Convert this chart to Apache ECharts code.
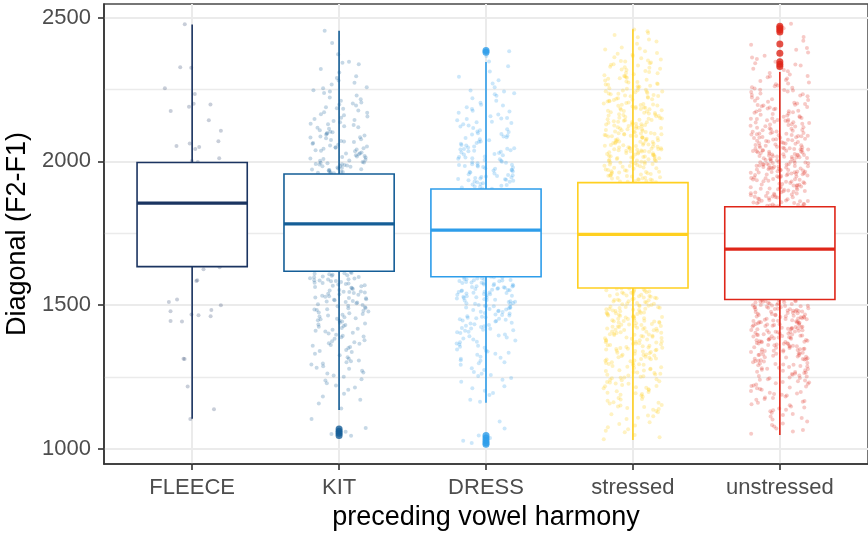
<!DOCTYPE html>
<html>
<head>
<meta charset="utf-8">
<script src="https://cdn.jsdelivr.net/npm/echarts@6/dist/echarts.min.js"></script>
<style>
  html, body { margin: 0; padding: 0; background: #ffffff; }
  #chart { width: 868px; height: 534px; }
</style>
</head>
<body>
<div id="chart"></div>
<script>
// Vowel groups on the x axis
const categories = ['FLEECE', 'KIT', 'DRESS', 'stressed', 'unstressed'];
const groupColors = ['#1B3461', '#155E97', '#2E9DEA', '#FFD020', '#DF2619'];

// Axis ticks
const yTicks = [1000, 1500, 2000, 2500];
const yMinorTicks = [1250, 1750, 2250];

// Box statistics per group (whisker ends, quartiles, median)
const boxLow    = [1105, 1136, 1161, 1031, 1049];
const boxQ1     = [1634, 1618, 1599, 1560, 1520];
const boxMedian = [1855, 1783, 1761, 1746, 1695];
const boxQ3     = [1996, 1956, 1904, 1926, 1842];
const boxHigh   = [2476, 2454, 2345, 2459, 2311];

// Outlying tokens beyond the whiskers
const kitOutliers = [1070, 1062, 1055, 1047];
const dressOutliers = [2385, 2379, 1047, 1038, 1030, 1022, 1017];
const unstressedOutliers = [2470, 2464, 2457, 2450, 2408, 2376, 2346, 2338, 2330];

// Individual tokens (Diagonal, F2-F1) lying outside the interquartile boxes
const fleeceTokens = [2477, 2327, 2325, 2254, 2234, 2200, 2198, 2190, 2175, 2143, 2106, 2070, 2062, 2053, 2050, 2043, 2011, 2001, 1998,
  1632, 1625, 1587, 1584, 1520, 1511, 1500, 1483, 1479, 1468, 1465, 1462, 1445, 1443, 1314, 1313, 1217, 1138, 1104];

const kitTokens = [2454, 2411, 2372, 2346, 2338, 2321, 2309, 2343, 2296, 2281, 2267, 2290, 2258, 2273, 2254, 2247, 2238, 2216, 2229, 2205,
  2243, 2211, 2222, 2201, 2194, 2183, 2171, 2188, 2160, 2177, 2152, 2164, 2198, 2169, 2156, 2185, 2147, 2131, 2119, 2140, 2108, 2126, 2113,
  2103, 2136, 2122, 2144, 2101, 2117, 2129, 2096, 2083, 2071, 2090, 2064, 2058, 2077, 2086, 2052, 2067, 2093, 2074, 2061, 2055, 2080, 2099,
  2069, 2084, 2047, 2039, 2028, 2013, 2044, 2006, 2021, 2035, 2017, 2002, 2049, 2031, 2010, 2025, 2041, 2008, 2019, 2037, 2003, 2046, 2015,
  2027, 1998, 1987, 1972, 1963, 1991, 1979, 1958, 1984, 1969, 1995, 1975, 1961, 1989, 1966, 1981, 1993, 1970, 1960, 1977, 1986, 1964, 1996,
  1973, 1983, 1959, 1990,
  1612, 1604, 1597, 1589, 1608, 1583, 1575, 1615, 1569, 1593, 1561, 1600, 1578, 1556, 1586, 1609, 1572, 1594, 1553, 1581, 1566, 1602, 1590,
  1559, 1574, 1611, 1584, 1563, 1598, 1551, 1577, 1606, 1568, 1587, 1546, 1538, 1527, 1519, 1542, 1511, 1533, 1503, 1524, 1548, 1515, 1536,
  1507, 1529, 1544, 1521, 1501, 1540, 1513, 1531, 1509, 1525, 1547, 1517, 1496, 1483, 1472, 1464, 1489, 1455, 1478, 1493, 1461, 1486, 1469,
  1451, 1481, 1498, 1458, 1475, 1490, 1467, 1453, 1485, 1446, 1431, 1418, 1404, 1439, 1425, 1411, 1443, 1428, 1415, 1436, 1402, 1421, 1448,
  1409, 1433, 1394, 1378, 1362, 1389, 1355, 1371, 1397, 1366, 1383, 1351, 1375, 1391, 1359, 1368, 1344, 1326, 1308, 1337, 1319, 1302, 1341,
  1314, 1331, 1305, 1294, 1279, 1263, 1288, 1256, 1272, 1297, 1266, 1283, 1251, 1243, 1221, 1206, 1238, 1214, 1229, 1192, 1171, 1158, 1183,
  1141, 1104, 1073, 1060, 1052, 1046];

const dressTokens = [2383, 2366, 2347, 2331, 2312, 2294, 2271, 2282, 2258, 2246, 2219, 2237, 2204, 2228, 2243, 2211, 2233, 2197, 2176, 2163,
  2188, 2151, 2182, 2169, 2194, 2157, 2173, 2147, 2129, 2112, 2138, 2104, 2143, 2121, 2133, 2108, 2116, 2149, 2125, 2136, 2102, 2093, 2077,
  2061, 2086, 2052, 2098, 2069, 2081, 2057, 2090, 2073, 2064, 2095, 2055, 2084, 2068, 2044, 2029, 2013, 2037, 2005, 2048, 2021, 2033, 2009,
  2041, 2017, 2026, 2002, 2046, 2035, 2011, 2024, 2039, 2015, 2031, 2007, 2043, 1997, 1982, 1969, 1988, 1955, 1993, 1974, 1961, 1986, 1952,
  1979, 1999, 1966, 1990, 1958, 1976, 1984, 1963, 1995, 1971, 1953, 1987, 1968, 1980, 1947, 1934, 1921, 1940, 1909, 1944, 1927, 1915, 1938,
  1906, 1949, 1930, 1918, 1942, 1924, 1911, 1936, 1946, 1913, 1929, 1939, 1920, 1905, 1933,
  1596, 1583, 1571, 1589, 1557, 1593, 1576, 1562, 1586, 1551, 1598, 1579, 1566, 1591, 1554, 1581, 1569, 1594, 1559, 1574, 1587, 1563, 1552,
  1597, 1578, 1565, 1590, 1556, 1584, 1572, 1599, 1561, 1577, 1588, 1553, 1568, 1544, 1527, 1512, 1538, 1503, 1547, 1521, 1533, 1508, 1541,
  1516, 1529, 1549, 1505, 1536, 1519, 1543, 1511, 1525, 1539, 1501, 1531, 1546, 1514, 1523, 1535, 1507, 1542, 1518, 1528, 1494, 1476, 1458,
  1487, 1462, 1498, 1471, 1453, 1483, 1466, 1491, 1455, 1479, 1497, 1464, 1485, 1451, 1473, 1489, 1460, 1481, 1496, 1468, 1456, 1477, 1492,
  1443, 1421, 1408, 1436, 1415, 1447, 1427, 1403, 1439, 1418, 1431, 1411, 1445, 1424, 1406, 1434, 1419, 1449, 1413, 1429, 1392, 1371, 1356,
  1384, 1363, 1398, 1377, 1352, 1388, 1367, 1395, 1359, 1381, 1373, 1342, 1321, 1307, 1335, 1314, 1346, 1328, 1302, 1339, 1317, 1331, 1309,
  1293, 1268, 1254, 1281, 1262, 1298, 1275, 1257, 1241, 1218, 1203, 1234, 1211, 1247, 1188, 1164, 1195, 1171, 1096, 1071, 1047, 1038, 1029,
  1021];

const stressedTokens = [2458, 2446, 2431, 2417, 2409, 2439, 2424, 2452, 2396, 2383, 2371, 2362, 2354, 2389, 2377, 2366, 2358, 2392, 2374,
  2351, 2347, 2336, 2322, 2314, 2303, 2341, 2329, 2318, 2307, 2344, 2333, 2325, 2311, 2338, 2319, 2349, 2306, 2327, 2296, 2284, 2271, 2263,
  2252, 2291, 2278, 2267, 2256, 2299, 2287, 2274, 2259, 2293, 2281, 2269, 2254, 2297, 2276, 2261, 2289, 2266, 2247, 2236, 2224, 2213, 2203,
  2242, 2231, 2219, 2208, 2249, 2238, 2227, 2216, 2205, 2244, 2233, 2221, 2211, 2246, 2229, 2214, 2201, 2240, 2226, 2218, 2235, 2209, 2243,
  2198, 2187, 2173, 2164, 2152, 2193, 2181, 2169, 2158, 2196, 2184, 2176, 2161, 2154, 2191, 2179, 2166, 2199, 2186, 2171, 2157, 2194, 2182,
  2163, 2151, 2189, 2175, 2168, 2197, 2159, 2178, 2185, 2146, 2134, 2123, 2111, 2102, 2141, 2129, 2117, 2106, 2148, 2137, 2126, 2114, 2103,
  2143, 2131, 2119, 2108, 2145, 2136, 2122, 2112, 2149, 2127, 2115, 2139, 2104, 2132, 2121, 2144, 2109, 2125, 2138, 2116, 2101, 2128, 2097,
  2086, 2073, 2064, 2052, 2093, 2081, 2069, 2057, 2099, 2088, 2076, 2062, 2054, 2095, 2083, 2071, 2059, 2091, 2079, 2066, 2051, 2098, 2084,
  2072, 2061, 2094, 2077, 2056, 2089, 2068, 2082, 2096, 2063, 2074, 2058, 2087, 2092, 2067, 2053, 2048, 2037, 2024, 2013, 2004, 2044, 2032,
  2019, 2008, 2046, 2035, 2027, 2016, 2002, 2041, 2029, 2018, 2006, 2049, 2038, 2022, 2011, 2043, 2031, 2014, 2001, 2047, 2026, 2009, 2039,
  2021, 2034, 2045, 2012, 2028, 2007, 2042, 2017, 2033, 2003, 2036, 2023, 2040, 2015, 1997, 1984, 1972, 1961, 1949, 1938, 1929, 1993, 1981,
  1967, 1954, 1943, 1932, 1999, 1987, 1976, 1963, 1951, 1940, 1927, 1995, 1979, 1966, 1957, 1945, 1934, 1991, 1983, 1970, 1959, 1947, 1936,
  1998, 1974, 1952, 1931, 1989, 1964, 1942, 1985, 1956, 1930, 1992, 1969, 1941, 1978, 1950, 1996, 1961, 1937,
  1557, 1543, 1529, 1516, 1503, 1552, 1538, 1524, 1511, 1548, 1534, 1519, 1506, 1559, 1545, 1531, 1514, 1501, 1554, 1539, 1526, 1509, 1546,
  1533, 1517, 1558, 1541, 1522, 1505, 1550, 1536, 1513, 1544, 1527, 1508, 1555, 1532, 1518, 1549, 1521, 1497, 1484, 1472, 1459, 1453, 1493,
  1479, 1466, 1455, 1499, 1487, 1474, 1461, 1490, 1477, 1463, 1452, 1495, 1482, 1469, 1457, 1491, 1475, 1464, 1498, 1483, 1468, 1454, 1486,
  1471, 1458, 1494, 1480, 1462, 1488, 1473, 1447, 1433, 1419, 1406, 1442, 1428, 1414, 1401, 1445, 1431, 1417, 1404, 1439, 1424, 1411, 1448,
  1435, 1421, 1408, 1443, 1426, 1413, 1437, 1422, 1403, 1446, 1429, 1415, 1440, 1418, 1432, 1409, 1444, 1425, 1396, 1381, 1367, 1353, 1391,
  1376, 1362, 1398, 1385, 1371, 1357, 1393, 1379, 1364, 1351, 1388, 1373, 1359, 1397, 1383, 1368, 1355, 1390, 1374, 1361, 1394, 1378, 1366,
  1386, 1352, 1370, 1399, 1346, 1329, 1313, 1341, 1325, 1308, 1348, 1333, 1317, 1302, 1343, 1327, 1311, 1337, 1321, 1305, 1345, 1331, 1315,
  1339, 1323, 1307, 1349, 1335, 1319, 1342, 1312, 1328, 1296, 1277, 1258, 1289, 1271, 1253, 1293, 1282, 1264, 1299, 1286, 1268, 1251, 1291,
  1274, 1256, 1297, 1279, 1262, 1284, 1266, 1295, 1259, 1273, 1246, 1227, 1208, 1239, 1218, 1201, 1243, 1231, 1213, 1248, 1223, 1205, 1236,
  1215, 1241, 1228, 1211, 1249, 1233, 1219, 1194, 1172, 1153, 1186, 1163, 1198, 1177, 1158, 1191, 1168, 1182, 1151, 1196, 1174, 1189, 1161,
  1143, 1121, 1104, 1137, 1114, 1148, 1128, 1109, 1139, 1117, 1132, 1146, 1093, 1076, 1058, 1041, 1087, 1064, 1049, 1082, 1069, 1034];

const unstressedTokens = [2478, 2463, 2449, 2432, 2419, 2405, 2394, 2378, 2367, 2356, 2388, 2361, 2346, 2333, 2318, 2307, 2341, 2326, 2313,
  2337, 2302, 2322, 2297, 2283, 2271, 2258, 2292, 2279, 2264, 2253, 2288, 2274, 2261, 2295, 2268, 2256, 2248, 2236, 2222, 2211, 2243, 2229,
  2216, 2204, 2246, 2233, 2219, 2207, 2241, 2226, 2213, 2249, 2231, 2201, 2196, 2184, 2173, 2162, 2151, 2192, 2181, 2169, 2157, 2199, 2187,
  2176, 2165, 2153, 2194, 2183, 2171, 2159, 2197, 2178, 2166, 2189, 2155, 2174, 2147, 2138, 2126, 2115, 2104, 2143, 2131, 2119, 2108, 2149,
  2136, 2124, 2112, 2101, 2145, 2133, 2121, 2109, 2141, 2128, 2117, 2106, 2148, 2135, 2122, 2113, 2144, 2129, 2103, 2139, 2098, 2087, 2076,
  2064, 2053, 2094, 2083, 2071, 2059, 2096, 2085, 2073, 2062, 2051, 2091, 2079, 2067, 2056, 2099, 2088, 2075, 2063, 2093, 2081, 2069, 2057,
  2097, 2084, 2072, 2061, 2089, 2077, 2054, 2092, 2066, 2082, 2048, 2039, 2027, 2016, 2005, 2044, 2033, 2021, 2011, 2046, 2035, 2024, 2013,
  2002, 2042, 2031, 2019, 2008, 2049, 2037, 2026, 2014, 2004, 2041, 2029, 2018, 2007, 2045, 2034, 2022, 2012, 2047, 2038, 2025, 2015, 2001,
  2043, 2032, 2020, 2009, 2036, 2023, 2040, 2017, 1998, 1988, 1977, 1966, 1955, 1994, 1983, 1972, 1961, 1951, 1996, 1985, 1974, 1963, 1953,
  1991, 1980, 1969, 1958, 1999, 1987, 1976, 1965, 1954, 1993, 1982, 1971, 1960, 1997, 1986, 1975, 1962, 1952, 1990, 1979, 1968, 1957, 1995,
  1984, 1973, 1959, 1992, 1978, 1964, 1989, 1970, 1956, 1981, 1948, 1936, 1921, 1907, 1893, 1878, 1864, 1851, 1944, 1931, 1917, 1902, 1889,
  1874, 1861, 1847, 1946, 1933, 1919, 1905, 1891, 1876, 1862, 1849, 1941, 1927, 1913, 1899, 1885, 1871, 1857, 1843, 1949, 1938, 1924, 1910,
  1896, 1882, 1868, 1854, 1942, 1929, 1915, 1901, 1887, 1872, 1858, 1845, 1947, 1934, 1920, 1906, 1892, 1877, 1863, 1850, 1939, 1925, 1911,
  1897, 1883, 1869, 1855, 1844, 1945, 1930, 1916, 1903, 1888, 1875, 1859, 1846, 1937, 1922, 1908, 1894, 1880, 1866, 1852,
  1517, 1504, 1491, 1478, 1463, 1452, 1513, 1499, 1486, 1472, 1459, 1510, 1495, 1482, 1469, 1455, 1519, 1506, 1493, 1480, 1466, 1451, 1515,
  1501, 1488, 1474, 1461, 1508, 1496, 1483, 1470, 1457, 1512, 1498, 1485, 1467, 1454, 1516, 1502, 1489, 1476, 1462, 1509, 1494, 1479, 1465,
  1453, 1514, 1500, 1487, 1473, 1458, 1507, 1492, 1477, 1460, 1518, 1497, 1481, 1468, 1448, 1437, 1424, 1412, 1401, 1444, 1431, 1419, 1407,
  1446, 1434, 1421, 1409, 1441, 1428, 1416, 1404, 1449, 1436, 1423, 1411, 1443, 1430, 1417, 1405, 1447, 1433, 1420, 1408, 1440, 1426, 1414,
  1402, 1445, 1432, 1418, 1439, 1425, 1406, 1442, 1429, 1413, 1435, 1422, 1397, 1384, 1372, 1359, 1393, 1380, 1367, 1354, 1399, 1387, 1374,
  1362, 1351, 1391, 1378, 1365, 1356, 1395, 1382, 1369, 1358, 1389, 1376, 1363, 1398, 1385, 1371, 1352, 1392, 1379, 1366, 1394, 1383, 1361,
  1388, 1373, 1357, 1396, 1375, 1368, 1346, 1331, 1316, 1302, 1342, 1327, 1312, 1348, 1335, 1321, 1306, 1344, 1329, 1314, 1339, 1324, 1309,
  1349, 1333, 1318, 1304, 1341, 1326, 1311, 1337, 1322, 1347, 1307, 1332, 1319, 1343, 1328, 1313, 1338, 1296, 1278, 1261, 1289, 1272, 1254,
  1293, 1283, 1266, 1299, 1281, 1264, 1252, 1291, 1274, 1258, 1297, 1285, 1269, 1287, 1256, 1276, 1294, 1263, 1279, 1268, 1246, 1227, 1209,
  1238, 1219, 1202, 1243, 1231, 1214, 1249, 1224, 1206, 1236, 1217, 1241, 1229, 1211, 1247, 1233, 1221, 1193, 1174, 1156, 1186, 1167, 1198,
  1179, 1161, 1189, 1171, 1152, 1196, 1183, 1164, 1191, 1177, 1144, 1126, 1108, 1137, 1118, 1148, 1131, 1113, 1141, 1122, 1103, 1135, 1096,
  1078, 1061, 1089, 1071, 1053, 1084, 1066];

const groupTokens = [fleeceTokens, kitTokens, dressTokens, stressedTokens, unstressedTokens];
const groupOutliers = [[], kitOutliers, dressOutliers, [], unstressedOutliers];

const FONT = '"Liberation Sans", Arial, Helvetica, sans-serif';

// Deterministic horizontal jitter (half-width 0.2 of a category step)
function jitter(i, v) {
  const h = Math.sin(i * 12.9898 + v * 78.233) * 43758.5453;
  return (h - Math.floor(h) - 0.5) * 0.4;
}

function hexToRgba(hex, a) {
  const n = parseInt(hex.slice(1), 16);
  return 'rgba(' + ((n >> 16) & 255) + ',' + ((n >> 8) & 255) + ',' + (n & 255) + ',' + a + ')';
}

const series = [];

// Jittered tokens (drawn beneath the boxes)
groupTokens.forEach(function (vals, g) {
  series.push({
    type: 'scatter',
    silent: true,
    z: 2,
    symbol: 'circle',
    symbolSize: 4,
    itemStyle: { color: hexToRgba(groupColors[g], g === 3 ? 0.34 : 0.3) },
    data: vals.map(function (v, i) { return [g + 1 + jitter(i, v), v]; })
  });
});

// Box-and-whisker glyphs
series.push({
  type: 'custom',
  silent: true,
  z: 3,
  data: categories.map(function (c, i) {
    return [i + 1, boxLow[i], boxQ1[i], boxMedian[i], boxQ3[i], boxHigh[i]];
  }),
  encode: { x: 0, y: [1, 2, 3, 4, 5] },
  renderItem: function (params, api) {
    const x = api.value(0);
    const half = api.size([0.75, 0])[0] / 2;
    const pLow = api.coord([x, api.value(1)]);
    const yQ1 = api.coord([x, api.value(2)])[1];
    const yMed = api.coord([x, api.value(3)])[1];
    const yQ3 = api.coord([x, api.value(4)])[1];
    const yHigh = api.coord([x, api.value(5)])[1];
    const cx = pLow[0];
    const col = groupColors[params.dataIndex];
    return {
      type: 'group',
      children: [
        { type: 'line', shape: { x1: cx, y1: pLow[1], x2: cx, y2: yQ1 }, style: { stroke: col, lineWidth: 1.6 } },
        { type: 'line', shape: { x1: cx, y1: yQ3, x2: cx, y2: yHigh }, style: { stroke: col, lineWidth: 1.6 } },
        { type: 'rect', shape: { x: cx - half, y: yQ3, width: 2 * half, height: yQ1 - yQ3 },
          style: { fill: '#ffffff', stroke: col, lineWidth: 1.6 } },
        { type: 'line', shape: { x1: cx - half, y1: yMed, x2: cx + half, y2: yMed }, style: { stroke: col, lineWidth: 3.2 } }
      ]
    };
  }
});

// Outliers
groupOutliers.forEach(function (vals, g) {
  if (!vals.length) return;
  series.push({
    type: 'scatter',
    silent: true,
    z: 4,
    symbol: 'circle',
    symbolSize: 7,
    itemStyle: { color: groupColors[g] },
    data: vals.map(function (v) { return [g + 1, v]; })
  });
});

const chart = echarts.init(document.getElementById('chart'), null, { renderer: 'canvas' });
chart.setOption({
  animation: false,
  backgroundColor: '#ffffff',
  grid: {
    left: 104, right: 0, top: 4, bottom: 70,
    show: true, borderColor: '#4a4a4a', borderWidth: 1.5, backgroundColor: 'transparent',
    containLabel: false, outerBoundsMode: 'none'
  },
  xAxis: {
    type: 'value',
    min: 0.4, max: 5.6,
    axisLine: { show: true, onZero: false, lineStyle: { color: '#333333', width: 1.6 } },
    axisTick: { show: true, customValues: [1, 2, 3, 4, 5], length: 6, lineStyle: { color: '#333333', width: 1.6 } },
    axisLabel: {
      customValues: [1, 2, 3, 4, 5],
      formatter: function (v) { return categories[Math.round(v) - 1]; },
      color: '#4D4D4D', fontSize: 22, fontFamily: FONT, margin: 13
    },
    splitLine: { show: true, lineStyle: { color: '#EBEBEB', width: 2 } },
    name: 'preceding vowel harmony',
    nameLocation: 'middle',
    nameGap: 38,
    nameTextStyle: { color: '#000000', fontSize: 27, fontFamily: FONT }
  },
  yAxis: [
    {
      type: 'value',
      min: 948, max: 2547,
      axisLine: { show: true, onZero: false, lineStyle: { color: '#333333', width: 1.6 } },
      axisTick: { show: true, customValues: yTicks, length: 6, lineStyle: { color: '#333333', width: 1.6 } },
      axisLabel: {
        customValues: yTicks,
        formatter: function (v) { return String(v); },
        color: '#4D4D4D', fontSize: 22, fontFamily: FONT, margin: 13
      },
      splitLine: { show: true, lineStyle: { color: '#EBEBEB', width: 2 } },
      name: 'Diagonal (F2-F1)',
      nameLocation: 'middle',
      nameGap: 64,
      nameRotate: 90,
      nameTextStyle: { color: '#000000', fontSize: 27, fontFamily: FONT }
    },
    {
      type: 'value',
      position: 'left',
      min: 948, max: 2547,
      axisLine: { show: false },
      axisTick: { show: false, customValues: yMinorTicks },
      axisLabel: { show: false, customValues: yMinorTicks },
      splitLine: { show: true, lineStyle: { color: '#EBEBEB', width: 1.3 } }
    }
  ],
  series: series
});
</script>
</body>
</html>
